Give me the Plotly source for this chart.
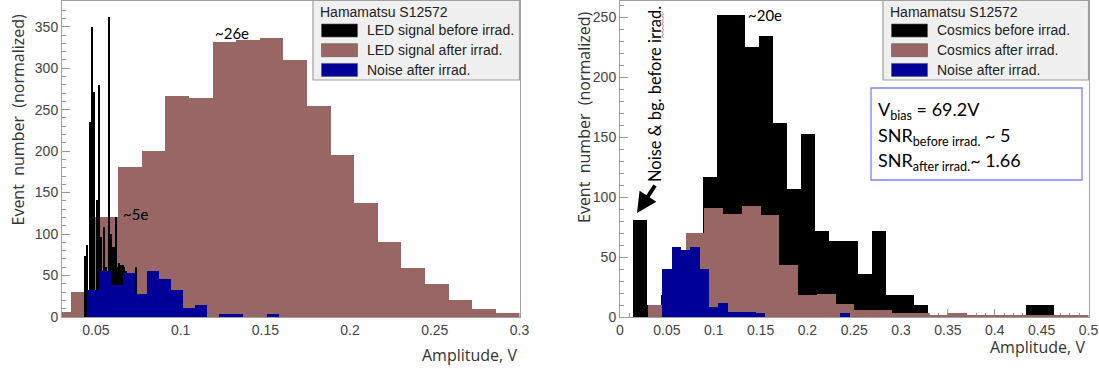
import plotly.graph_objects as go

W, H = 1099, 369

# ---------------- data: left panel (LED) ----------------
led_after_start = 0.02140
led_after_width = 0.01393
led_after = [6, 30, 120, 181, 200, 266, 264, 332, 334, 336, 310, 254, 195, 137, 90, 59, 40, 21, 10, 5]

led_before_start = 0.0434
led_before_width = 0.0010
led_before = [73, 87, 25, 235, 350, 271, 30, 141, 280, 97, 40, 109, 60, 40, 362, 100, 85, 85,
              120, 60, 65, 63, 63, 60, 55, 52, 45, 35, 20, 10, 60]

noise_l_start = 0.0449
noise_l_width = 0.00709
noise_l = [32, 56, 39, 53, 28, 56, 46, 32, 11, 15, 0, 4, 4, 0, 0, 4]

# ---------------- data: right panel (cosmics) ----------------
cos_before_start = 0.0135
cos_before_width = 0.015
cos_before = [81, 10, 18, 30, 50, 117, 252, 252, 225, 234, 162, 107, 153, 72, 63, 63, 36, 72,
              18, 18, 10, 0, 0, 0, 0, 0, 0, 0, 10, 10]

cos_after_start = 0.03
cos_after_width = 0.02
cos_after = [10, 30, 70, 91, 86, 93, 85, 43, 18, 19, 11, 6, 6, 3, 3, 1.5, 3, 1.5, 1.5, 1.5, 1.5, 1.5, 1.5, 1.5]

noise_r_start = 0.045
noise_r_width = 0.01
noise_r = [40, 58, 56, 58, 40, 8, 12, 4.5, 4.5, 4.5, 3, 0, 0, 0, 0, 0, 0, 0, 0, 3]

BROWN = "#996666"
BLUE = "#000099"
BLACK = "#000000"


def hist(start, width, vals, color, xa, ya, name):
    centers = [start + width * (i + 0.5) for i in range(len(vals))]
    return go.Bar(x=centers, y=vals, width=[width] * len(vals), name=name,
                  marker=dict(color=color, line=dict(width=0)),
                  xaxis=xa, yaxis=ya, showlegend=False, hoverinfo="skip")


fig = go.Figure()
# left: brown, black, blue
fig.add_trace(hist(led_after_start, led_after_width, led_after, BROWN, "x", "y", "LED signal after irrad."))
fig.add_trace(hist(led_before_start, led_before_width, led_before, BLACK, "x", "y", "LED signal before irrad."))
fig.add_trace(hist(noise_l_start, noise_l_width, noise_l, BLUE, "x", "y", "Noise after irrad."))
# right: black, brown, blue
fig.add_trace(hist(cos_before_start, cos_before_width, cos_before, BLACK, "x2", "y2", "Cosmics before irrad."))
fig.add_trace(hist(cos_after_start, cos_after_width, cos_after, BROWN, "x2", "y2", "Cosmics after irrad."))
fig.add_trace(hist(noise_r_start, noise_r_width, noise_r, BLUE, "x2", "y2", "Noise after irrad."))


def px(x):
    return x / W


def py(y):
    return 1 - y / H


TICKFONT = dict(family="Liberation Sans, Arial, sans-serif", size=14, color="#444444")
AXCOMMON = dict(showline=True, mirror=True, linecolor="#a0a0a0", linewidth=1,
                ticks="inside", ticklen=8, tickcolor="#999999", tickfont=TICKFONT,
                showgrid=False, zeroline=False, layer="below traces", fixedrange=True,
                automargin=False)

ydom = [py(317), py(1)]
fig.update_layout(
    width=W, height=H, autosize=False, margin=dict(l=0, r=0, t=0, b=0, pad=0),
    paper_bgcolor="white", plot_bgcolor="white", barmode="overlay", bargap=0,
    showlegend=False,
    xaxis=dict(domain=[px(62), px(519.5)], range=[0.03, 0.3], dtick=0.05, tick0=0,
               minor=dict(dtick=0.01, ticklen=4, ticks="inside", tickcolor="#999999"),
               anchor="y", **AXCOMMON),
    yaxis=dict(domain=ydom, range=[0, 381], dtick=50, tick0=0,
               minor=dict(dtick=10, ticklen=4, ticks="inside", tickcolor="#999999"),
               anchor="x", **AXCOMMON),
    xaxis2=dict(domain=[px(620), px(1088.5)], range=[0, 0.5], dtick=0.05, tick0=0,
                minor=dict(dtick=0.01, ticklen=4, ticks="inside", tickcolor="#999999"),
                anchor="y2", **AXCOMMON),
    yaxis2=dict(domain=ydom, range=[0, 263.6], dtick=50, tick0=0,
                minor=dict(dtick=10, ticklen=4, ticks="inside", tickcolor="#999999"),
                anchor="x2", **AXCOMMON),
)

shapes = []
ann = []

TITLEFONT = dict(family="Open Sans, sans-serif", size=16, color="#333333")
LEGFONT = dict(family="Liberation Sans, Arial, sans-serif", size=14, color="#222222")
CAL = "Lato, Open Sans, sans-serif"

# axis titles
ann.append(dict(text="Event  number  (normalized)", x=px(17.5), y=py(120), xref="paper", yref="paper",
                textangle=-90, showarrow=False, font=TITLEFONT, xanchor="center", yanchor="middle"))
ann.append(dict(text="Event  number  (normalized)", x=px(584), y=py(117), xref="paper", yref="paper",
                textangle=-90, showarrow=False, font=TITLEFONT, xanchor="center", yanchor="middle"))
ann.append(dict(text="Amplitude, V", x=px(519), y=py(355), xref="paper", yref="paper",
                showarrow=False, font=TITLEFONT, xanchor="right", yanchor="middle"))
ann.append(dict(text="Amplitude, V", x=px(1087), y=py(347), xref="paper", yref="paper",
                showarrow=False, font=TITLEFONT, xanchor="right", yanchor="middle"))


# legends (drawn as boxes, swatches and text)
def legend(x0, x1, entries):
    shapes.append(dict(type="rect", xref="paper", yref="paper", x0=px(x0), x1=px(x1), y0=py(80), y1=py(0.5),
                       fillcolor="#f0f0f0", line=dict(color="#a0a0a0", width=1.2), layer="above"))
    ann.append(dict(text="Hamamatsu S12572", x=px(x0 + 5), y=py(11.5), xref="paper", yref="paper",
                    showarrow=False, font=LEGFONT, xanchor="left", yanchor="middle"))
    for i, (label, col) in enumerate(entries):
        yc = 30.5 + 19.7 * i
        shapes.append(dict(type="rect", xref="paper", yref="paper", x0=px(x0 + 8.5), x1=px(x0 + 44.5),
                           y0=py(yc + 6.5), y1=py(yc - 6.5), fillcolor=col,
                           line=dict(color="#555555", width=0.6), layer="above"))
        ann.append(dict(text=label, x=px(x0 + 52), y=py(yc), xref="paper", yref="paper",
                        showarrow=False, font=LEGFONT, xanchor="left", yanchor="middle"))


legend(313, 519.5, [("LED signal before irrad.", BLACK), ("LED signal after irrad.", BROWN),
                    ("Noise after irrad.", BLUE)])
legend(883, 1088.5, [("Cosmics before irrad.", BLACK), ("Cosmics after irrad.", BROWN),
                     ("Noise after irrad.", BLUE)])

# SNR box
shapes.append(dict(type="rect", xref="paper", yref="paper", x0=px(871), x1=px(1082), y0=py(180), y1=py(88),
                   fillcolor="white", line=dict(color="#8080ff", width=1.3), layer="above"))
BOXFONT = dict(family=CAL, size=18, color="#000000")
for txt, yy in [("V<sub>bias</sub> = 69.2V", 111),
                ("SNR<sub>before irrad.</sub> ~ 5", 136),
                ("SNR<sub>after irrad.</sub>~ 1.66", 161)]:
    ann.append(dict(text=txt, x=px(876), y=py(yy), xref="paper", yref="paper", showarrow=False,
                    font=BOXFONT, xanchor="left", yanchor="middle"))

# peak labels
PEAKFONT = dict(family=CAL, size=15, color="#000000")
ann.append(dict(text="~26e", x=px(213), y=py(33), xref="paper", yref="paper", showarrow=False,
                font=PEAKFONT, xanchor="left", yanchor="middle"))
ann.append(dict(text="~5e", x=px(121), y=py(214), xref="paper", yref="paper", showarrow=False,
                font=PEAKFONT, xanchor="left", yanchor="middle"))
ann.append(dict(text="~20e", x=px(746), y=py(15), xref="paper", yref="paper", showarrow=False,
                font=PEAKFONT, xanchor="left", yanchor="middle"))

# vertical note, spell-check squiggle and arrow
ann.append(dict(text="Noise & bg. before irrad.", x=px(655), y=py(94), xref="paper", yref="paper",
                textangle=-90, showarrow=False, font=dict(family=CAL, size=16.5, color="#000000"),
                xanchor="center", yanchor="middle"))
sq_x = [662 + (1.5 if i % 2 else 0) for i in range(14)]
sq_y = [12 + 2 * i for i in range(14)]
path = "M " + " L ".join(f"{px(a):.5f},{py(b):.5f}" for a, b in zip(sq_x, sq_y))
shapes.append(dict(type="path", xref="paper", yref="paper", path=path,
                   line=dict(color="#e05050", width=0.8), layer="above"))

ann.append(dict(text="", x=px(637), y=py(213), xref="paper", yref="paper", showarrow=True,
                ax=19, ay=-29, arrowhead=2, arrowsize=1.0, arrowwidth=4, arrowcolor="#000000"))

fig.update_layout(shapes=shapes, annotations=ann)
fig.write_html("out.html", config=dict(responsive=False))
